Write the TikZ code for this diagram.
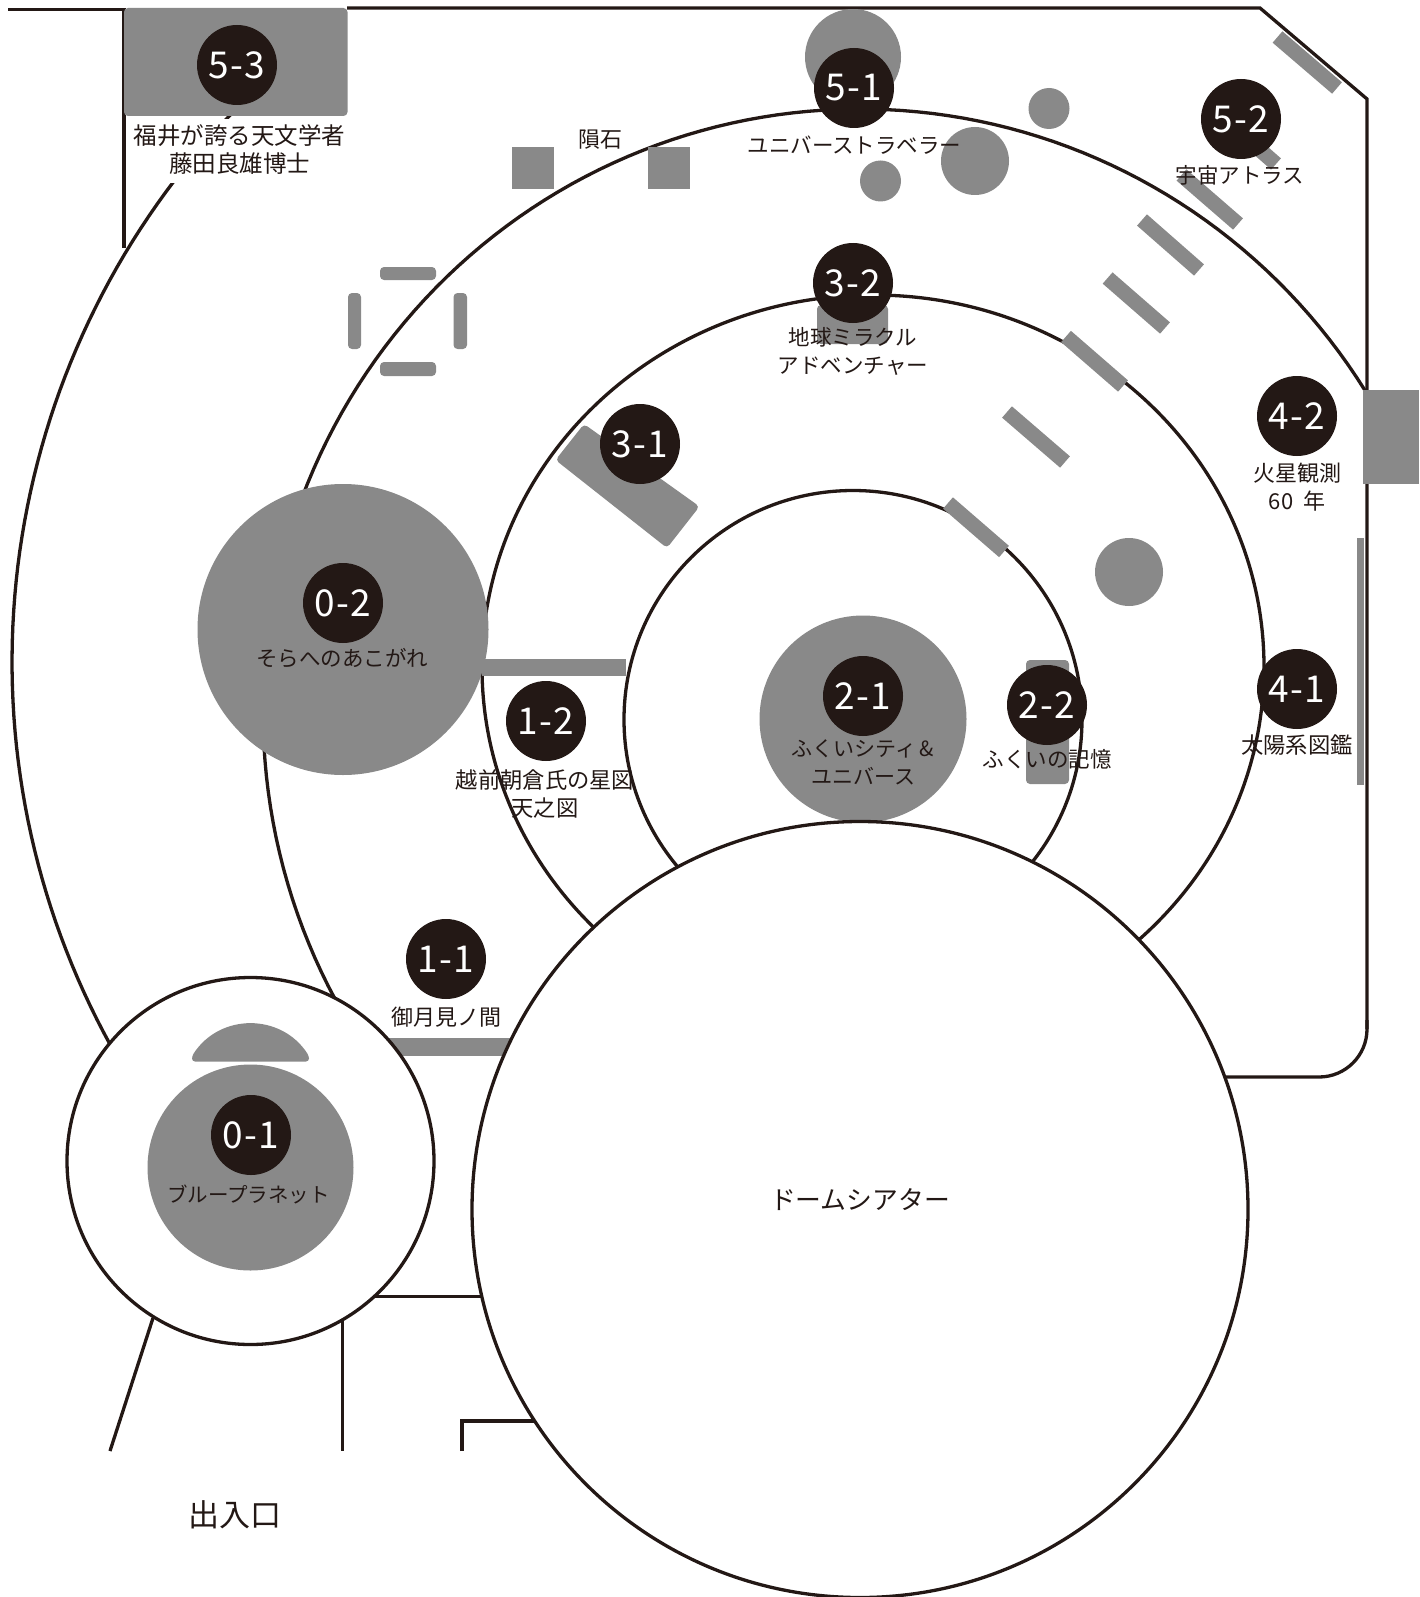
\documentclass[tikz,border=0pt]{standalone}
\usepackage{fontspec}
\setmainfont{Noto Sans CJK JP}
\definecolor{ink}{HTML}{231815}
\definecolor{exhibit}{HTML}{898989}
\tikzset{
    wall/.style={draw=ink,line width=3.3pt},
    bar/.style={draw=exhibit,line width=15pt},
    exhibit/.style={fill=exhibit,rounded corners=4pt},
    badge/.style={circle,fill=ink,text=white,minimum size=80pt,inner sep=0pt,font=\fontsize{37}{37}\selectfont\addfontfeature{LetterSpace=3}},
    caption/.style={text=ink,align=center,inner sep=0pt},
}
\begin{document}
\begin{tikzpicture}[x=1pt,y=-1pt]
\useasboundingbox (0,0) rectangle (1419,1597);

% walls
\draw[wall] (8,9.5)--(124,9.5)--(124,248);
\draw[wall] (347,8)--(1260,8)--(1367,99)--(1367,1029);
\draw[wall,rounded corners=48pt] (1367,1020)--(1367,1077)--(1225,1077);
\draw[wall] (153,1318)--(110,1451);
\draw[wall] (342.5,1320)--(342.5,1451);
\draw[wall] (373,1296.5)--(490,1296.5);
\draw[wall] (462,1451)--(462,1421)--(540,1421);

% rings
\draw[wall] plot[domain=150:225,samples=70] ({807+795*cos(\x)},{662+795*sin(\x)});
\draw[wall] plot[domain=150:327.8,samples=120] ({860+597*cos(\x)},{712+603*sin(\x)});
\draw[wall] (873,667) ellipse [x radius=391,y radius=372];
\draw[wall] (853,719.5) circle (229);

% bars
\foreach \xa/\ya/\xb/\yb in {1277.5/37/1337/88,1181.5/175/1238/224,1219/114/1276/164,1142/220/1199/270,1107.6/278/1165/328,1066/336.5/1123/386,1007/412/1065/462,948/503/1004/551.5}
{
    \draw[bar] (\xa,\ya)--(\xb,\yb);
}

% exhibits
\fill[exhibit] (124,8) rectangle (347.5,116);
\fill[exhibit!100] (512,147) rectangle (554,189);
\fill[exhibit!100] (648,147) rectangle (690,189);
\fill[exhibit] (380,267) rectangle (436,280);
\fill[exhibit] (380,362) rectangle (436,376);
\fill[exhibit] (348,293) rectangle (361,349);
\fill[exhibit] (453.5,293) rectangle (467,349);
\fill[exhibit] (584,424)--(699.5,506.5)--(667,548)--(555.5,460)--cycle;
\fill[exhibit] (817,305) rectangle (888,344);
\fill[exhibit] (1026,660) rectangle (1069,784);
\fill[exhibit!100] (1363,390) rectangle (1419,484);
\fill[exhibit!100] (1357,537.5) rectangle (1364,785);
\fill[exhibit!100] (482,659) rectangle (626,676);
\fill[exhibit!100] (370,1038) rectangle (530,1056);
\foreach \x/\y/\r in {853/57/48,1049/108.5/20.5,975/161/34,880.5/181/20.5,1129/572/34,343/629.5/145.5,863/719/103.5}
{
    \fill[exhibit] (\x,\y) circle (\r);
}

% rooms
\draw[wall,fill=white] (250.5,1161) circle (183.5);
\draw[wall,fill=white] (860,1209.5) circle (388);
\fill[exhibit!100] (250.5,1167.5) circle (103);
\fill[exhibit,rounded corners=3pt] (192,1056) .. controls (220,1013) and (281,1013) .. (309,1056)--(309,1061.5)--(192,1061.5)--cycle;
\fill[white] (128,119) rectangle (350,183);

% captions
\foreach \x/\y/\xsize/\xname/\xtext in {239.5/149.5/23.5/hakase/{福井が誇る天文学者\\藤田良雄博士},600/140/22/inseki/{隕石},854.5/145/21.5/traveler/{ユニバーストラベラー},1240/175.5/21.5/atlas/{宇宙アトラス},853/351.5/21.5/miracle/{地球ミラクル\\アドベンチャー},1297/487.5/22/kasei/{火星観測\\60\ \ 年},342/658/21.5/sora/{そらへのあこがれ},863/762/21/city/{ふくいシティ\,\&\\ユニバース},1047/759/21.5/kioku/{ふくいの記憶},1297/745/22.3/taiyo/{太陽系図鑑},545/793.5/22.3/tenzu/{越前朝倉氏の星図\\天之図},446/1017/22/tsukimi/{御月見ノ間},248.5/1194/20.5/blue/{ブループラネット},860/1199.5/25.8/dome/{ドームシアター},235/1515/31/entrance/{出入口}}
{
    \node[caption,font=\fontsize{\xsize}{28}\selectfont] (\xname) at (\x,\y) {\xtext};
}

% badges
\foreach \x/\y/\xtext in {237/65/5-3,854/88/5-1,1241/119/5-2,853/283/3-2,640/444/3-1,1297/416/4-2,343/603/0-2,863/696/2-1,1047/705/2-2,1297/689/4-1,546/721/1-2,446/959/1-1,251/1135/0-1}
{
    \node[badge] (b\xtext) at (\x,\y) {\xtext};
}
\end{tikzpicture}
\end{document}
